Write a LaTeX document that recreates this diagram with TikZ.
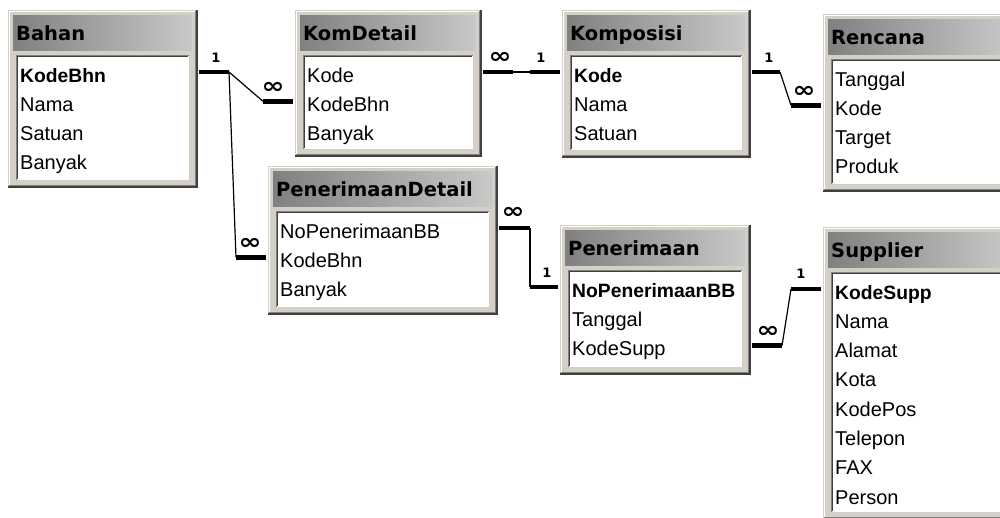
\documentclass[tikz,border=0pt]{standalone}
\usepackage{fontspec}
\setmainfont{Liberation Sans}
\newfontfamily\titlef{DejaVu Sans}
\usetikzlibrary{calc}
\definecolor{framec}{HTML}{D4D0C8}
\definecolor{edgedark}{HTML}{404040}
\definecolor{edgemid}{HTML}{808080}
\definecolor{tleft}{HTML}{808080}
\definecolor{tright}{HTML}{C8C8C8}
\newcommand\keyf{\bfseries\fontsize{19.3}{22}\selectfont}
\tikzset{
  tblframe/.style={draw=none, fill=framec, inner sep=0pt, outer sep=0pt, anchor=north west},
  titletxt/.style={font=\titlef\bfseries\fontsize{19.5}{22}\selectfont, anchor=base west, inner sep=0pt},
  fieldtxt/.style={font=\fontsize{20}{22}\selectfont, anchor=base west, inner sep=0pt},
  thickseg/.style={line width=4.5pt, black},
  thinseg/.style={line width=1.2pt, black},
  onelbl/.style={font=\titlef\bfseries\fontsize{13}{13}\selectfont, inner sep=0pt},
  manylbl/.style={font=\titlef\bfseries\fontsize{22}{22}\selectfont, inner sep=0pt, xscale=1.25},
}
\newcommand\dbtable[7]{%
  \pgfmathsetmacro\tw{#4-#2}\pgfmathsetmacro\th{#5-#3}%
  \node[tblframe, minimum width=\tw pt, minimum height=\th pt] (#1) at (#2,#3) {};
  \draw[edgedark, line width=2pt] (#4-1,#3) -- (#4-1,#5-1) -- (#2,#5-1);
  \draw[edgemid, line width=1pt] (#4-2.5,#3+1) -- (#4-2.5,#5-2.5) -- (#2+1,#5-2.5);
  \draw[white, line width=1pt] (#2+1.5,#5-3) -- (#2+1.5,#3+1.5) -- (#4-3,#3+1.5);
  \shade[left color=tleft, right color=tright] (#2+5,#3+5) rectangle (#4-6,#3+40);
  \fill[white] (#2+8,#3+45) rectangle (#4-9,#5-8);
  \draw[edgemid, line width=1pt] (#2+8.5,#5-8) -- (#2+8.5,#3+45.5) -- (#4-9,#3+45.5);
  \draw[edgedark, line width=1pt] (#2+9.5,#5-9) -- (#2+9.5,#3+46.5) -- (#4-10,#3+46.5);
  \node[titletxt] (#1-t) at (#2+8,#3+30) {#6};
  \foreach \r [count=\i] in {#7} {
    \pgfmathsetmacro\by{#3+72+29.3*(\i-1)}
    \node[fieldtxt] (#1-\i) at (#2+12,\by) {\r};
    \coordinate (#1-\i-e) at (#4+1,\by-10);
    \coordinate (#1-\i-w) at (#2-2,\by-10);
  }
}
\begin{document}
\begin{tikzpicture}[x=1pt,y=-1pt]
\useasboundingbox (0,0) rectangle (1000,517);
\clip (0,0) rectangle (1000,517);
\fill[white] (0,0) rectangle (1000,517);

\dbtable{bahan}{8}{10}{198}{188}{Bahan}{{\keyf KodeBhn},Nama,Satuan,Banyak}
\dbtable{komdetail}{295}{10}{482}{157}{KomDetail}{Kode,KodeBhn,Banyak}
\dbtable{komposisi}{562}{10}{751}{158}{Komposisi}{{\keyf Kode},Nama,Satuan}
\dbtable{rencana}{823}{14}{1015}{192}{Rencana}{Tanggal,Kode,Target,Produk}
\dbtable{pendetail}{268}{166}{498}{315}{PenerimaanDetail}{NoPenerimaanBB,KodeBhn,Banyak}
\dbtable{penerimaan}{560}{225}{751}{375}{Penerimaan}{{\keyf NoPenerimaanBB},Tanggal,KodeSupp}
\dbtable{supplier}{823}{227}{1015}{520}{Supplier}{{\keyf KodeSupp},Nama,Alamat,Kota,KodePos,Telepon,FAX,Person}

% Bahan -- KomDetail
\draw[thickseg] (bahan-1-e) -- ++(30,0) coordinate (c1a);
\draw[thickseg] (komdetail-2-w) -- ++(-30,0) coordinate (c1b);
\draw[thinseg] (c1a) -- (c1b);
\node[onelbl] (l1a) at ($(bahan-1-e)+(17,-14)$) {1};
\node[manylbl] (l1b) at ($(komdetail-2-w)+(-20,-13)$) {∞};
% Bahan -- PenerimaanDetail
\draw[thickseg] (pendetail-2-w) -- ++(-30,0) coordinate (c2b);
\draw[thinseg] (c1a) -- (c2b);
\node[manylbl] (l2b) at ($(pendetail-2-w)+(-16,-13)$) {∞};
% KomDetail -- Komposisi
\draw[thickseg] (komdetail-1-e) -- ++(30,0) coordinate (c3a);
\draw[thickseg] (komposisi-1-w) -- ++(-30,0) coordinate (c3b);
\draw[thinseg] (c3a) -- (c3b);
\node[manylbl] (l3a) at ($(komdetail-1-e)+(17,-14)$) {∞};
\node[onelbl] (l3b) at ($(komposisi-1-w)+(-19,-14)$) {1};
% Komposisi -- Rencana
\draw[thickseg] (komposisi-1-e) -- ++(28,0) coordinate (c4a);
\draw[thickseg] (rencana-2-w) -- ++(-30,0) coordinate (c4b);
\draw[thinseg] (c4a) -- (c4b);
\node[onelbl] (l4a) at ($(komposisi-1-e)+(17,-14)$) {1};
\node[manylbl] (l4b) at ($(rencana-2-w)+(-17,-13)$) {∞};
% PenerimaanDetail -- Penerimaan
\draw[thickseg] (pendetail-1-e) -- ++(31,0) coordinate (c5a);
\draw[thickseg] (penerimaan-1-w) -- ++(-28,0) coordinate (c5b);
\draw[thinseg] (c5a) -- (c5b);
\node[manylbl] (l5a) at ($(pendetail-1-e)+(14,-15)$) {∞};
\node[onelbl] (l5b) at ($(penerimaan-1-w)+(-11,-14)$) {1};
% Penerimaan -- Supplier
\draw[thickseg] (penerimaan-3-e) -- ++(30,0) coordinate (c6a);
\draw[thickseg] (supplier-1-w) -- ++(-30,0) coordinate (c6b);
\draw[thinseg] (c6a) -- (c6b);
\node[manylbl] (l6a) at ($(penerimaan-3-e)+(16,-14)$) {∞};
\node[onelbl] (l6b) at ($(supplier-1-w)+(-20,-15)$) {1};
\end{tikzpicture}
\end{document}
